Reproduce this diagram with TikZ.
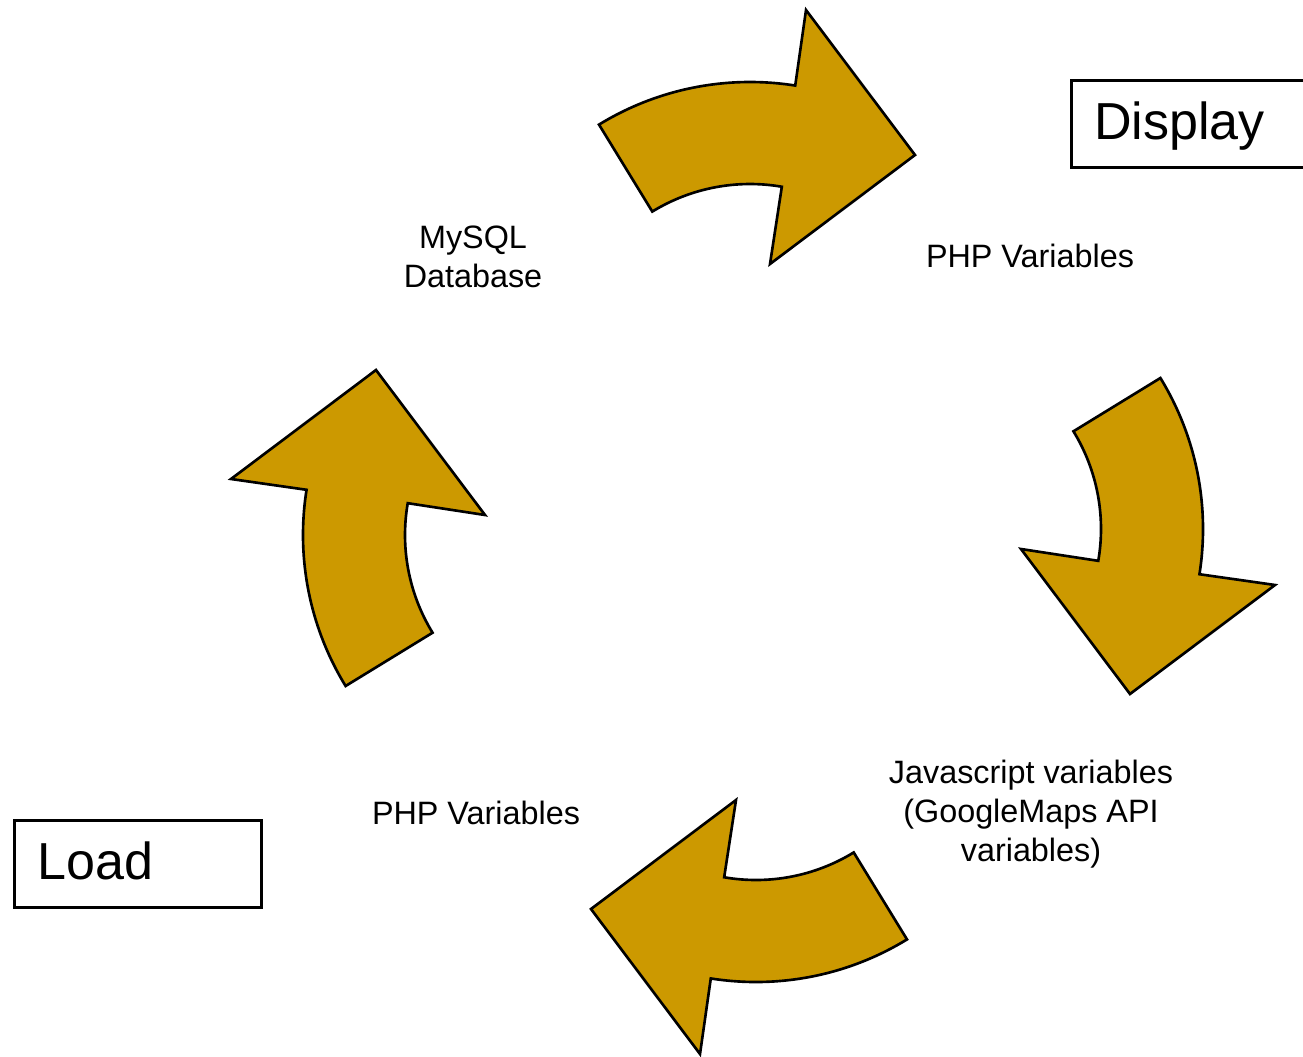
\documentclass[tikz,border=0pt]{standalone}
\usepackage{fontspec}
\setmainfont{Liberation Sans}
\usetikzlibrary{positioning}
\definecolor{arrowgold}{RGB}{204,153,0}
\tikzset{
  flowarrow/.style={fill=arrowgold, draw=black, line width=0.75pt, line join=miter},
  steplabel/.style={font=\fontsize{9.2}{11.1}\selectfont, align=center, inner sep=0pt},
  stagebox/.style={draw=black, line width=0.75pt, anchor=north west,
    font=\fontsize{14.8}{17}\selectfont, minimum height=0.87cm,
    inner xsep=0.23cm, align=left, text height=0.9em, text depth=0.03em}
}

\begin{document}
\begin{tikzpicture}[x=0.01cm, y=0.01cm]
  \useasboundingbox (0,0) rectangle (1303,1056);
  \clip (0,0) rectangle (1303,1056);
  % the four curved arrows round the cycle
  \foreach \a in {0,-90,-180,-270}{
    \begin{scope}[shift={(753,524)}, rotate=\a]
      \draw[flowarrow] ([shift={(-3,161)}]121.5:289) arc[start angle=121.5, end angle=81, radius=289]
        -- (53,522) -- (162,377) -- (17,268)
        -- ([shift={(-3,161)}]80.2:187) arc[start angle=80.2, end angle=121.5, radius=187] -- cycle;
    \end{scope}
  }
  % labels
  \node[steplabel] (db) at (473,799) {MySQL\\Database};
  \node[steplabel] (phpout) at (1030,800) {PHP Variables};
  \node[steplabel] (js) at (1031,242) {Javascript variables\\(GoogleMaps API\\variables)};
  \node[steplabel] (phpin) at (476,243) {PHP Variables};
  % stage boxes
  \node[stagebox, text width=2.04cm] (display) at (1070,977) {Display};
  \node[stagebox, text width=2.01cm] (load) at (13,237) {Load};
\end{tikzpicture}
\end{document}
